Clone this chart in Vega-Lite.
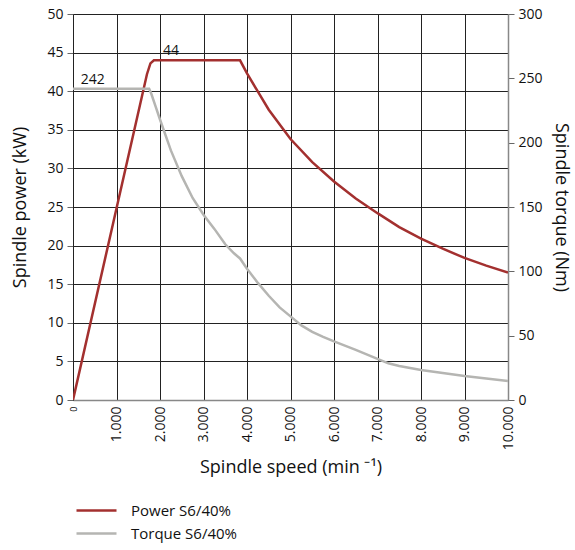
{
  "$schema": "https://vega.github.io/schema/vega-lite/v6.json",
  "width": 435,
  "height": 386,
  "autosize": "none",
  "padding": {"left": 73, "top": 14, "right": 67, "bottom": 150},
  "config": {
    "locale": {"number": {"decimal": ",", "thousands": ".", "grouping": [3], "currency": ["", " €"]}},
    "font": "Open Sans",
    "view": {"stroke": null},
    "axis": {"labelFont": "Open Sans", "titleFont": "Open Sans", "labelColor": "#111", "titleColor": "#111", "titleFontWeight": "normal"}
  },
  "datasets": {
    "curves": [
      {"rpm": 0, "value": 0, "series": "Power S6/40%"},
      {"rpm": 1700, "value": 42.2, "series": "Power S6/40%"},
      {"rpm": 1780, "value": 43.6, "series": "Power S6/40%"},
      {"rpm": 1860, "value": 44, "series": "Power S6/40%"},
      {"rpm": 3840, "value": 44, "series": "Power S6/40%"},
      {"rpm": 4000, "value": 42.3, "series": "Power S6/40%"},
      {"rpm": 4500, "value": 37.6, "series": "Power S6/40%"},
      {"rpm": 5000, "value": 33.8, "series": "Power S6/40%"},
      {"rpm": 5500, "value": 30.8, "series": "Power S6/40%"},
      {"rpm": 6000, "value": 28.3, "series": "Power S6/40%"},
      {"rpm": 6500, "value": 26.1, "series": "Power S6/40%"},
      {"rpm": 7000, "value": 24.2, "series": "Power S6/40%"},
      {"rpm": 7500, "value": 22.4, "series": "Power S6/40%"},
      {"rpm": 8000, "value": 20.9, "series": "Power S6/40%"},
      {"rpm": 8500, "value": 19.6, "series": "Power S6/40%"},
      {"rpm": 9000, "value": 18.4, "series": "Power S6/40%"},
      {"rpm": 9500, "value": 17.4, "series": "Power S6/40%"},
      {"rpm": 10000, "value": 16.5, "series": "Power S6/40%"},
      {"rpm": 0, "value": 242, "series": "Torque S6/40%"},
      {"rpm": 1750, "value": 242, "series": "Torque S6/40%"},
      {"rpm": 1800, "value": 238, "series": "Torque S6/40%"},
      {"rpm": 1900, "value": 228, "series": "Torque S6/40%"},
      {"rpm": 2000, "value": 218, "series": "Torque S6/40%"},
      {"rpm": 2250, "value": 194, "series": "Torque S6/40%"},
      {"rpm": 2500, "value": 174, "series": "Torque S6/40%"},
      {"rpm": 2750, "value": 157, "series": "Torque S6/40%"},
      {"rpm": 3000, "value": 144, "series": "Torque S6/40%"},
      {"rpm": 3250, "value": 133, "series": "Torque S6/40%"},
      {"rpm": 3500, "value": 121, "series": "Torque S6/40%"},
      {"rpm": 3700, "value": 114, "series": "Torque S6/40%"},
      {"rpm": 3840, "value": 110, "series": "Torque S6/40%"},
      {"rpm": 4000, "value": 102, "series": "Torque S6/40%"},
      {"rpm": 4250, "value": 91, "series": "Torque S6/40%"},
      {"rpm": 4500, "value": 81, "series": "Torque S6/40%"},
      {"rpm": 4750, "value": 72, "series": "Torque S6/40%"},
      {"rpm": 5000, "value": 65, "series": "Torque S6/40%"},
      {"rpm": 5250, "value": 58, "series": "Torque S6/40%"},
      {"rpm": 5500, "value": 53, "series": "Torque S6/40%"},
      {"rpm": 5750, "value": 49, "series": "Torque S6/40%"},
      {"rpm": 6000, "value": 45.5, "series": "Torque S6/40%"},
      {"rpm": 6500, "value": 39, "series": "Torque S6/40%"},
      {"rpm": 7000, "value": 32, "series": "Torque S6/40%"},
      {"rpm": 7250, "value": 28.5, "series": "Torque S6/40%"},
      {"rpm": 7500, "value": 26.5, "series": "Torque S6/40%"},
      {"rpm": 8000, "value": 23.3, "series": "Torque S6/40%"},
      {"rpm": 8500, "value": 21, "series": "Torque S6/40%"},
      {"rpm": 9000, "value": 18.7, "series": "Torque S6/40%"},
      {"rpm": 9500, "value": 16.8, "series": "Torque S6/40%"},
      {"rpm": 10000, "value": 14.8, "series": "Torque S6/40%"}
    ],
    "notes": [
      {"rpm": 2070, "value": 44, "label": "44", "series": "Power S6/40%"},
      {"rpm": 180, "value": 242, "label": "242", "series": "Torque S6/40%"}
    ]
  },
  "layer": [
    {
      "encoding": {
        "x": {
          "field": "rpm", "type": "quantitative",
          "scale": {"domain": [0, 10000], "nice": false},
          "axis": {
            "values": [0, 1000, 2000, 3000, 4000, 5000, 6000, 7000, 8000, 9000, 10000],
            "format": ",d",
            "labelAngle": -90,
            "labelAlign": "right",
            "labelBaseline": "middle",
            "labelFontSize": {"condition": {"test": "datum.value == 0", "value": 9}, "value": 14},
            "labelPadding": 6,
            "ticks": false,
            "grid": true,
            "gridColor": "#222",
            "gridWidth": 1,
            "domainColor": "#888",
            "domainWidth": 1.5,
            "title": "Spindle speed (min ⁻¹)",
            "titleFontSize": 18,
            "titlePadding": 9
          }
        },
        "y": {
          "field": "value", "type": "quantitative",
          "scale": {"domain": [0, 50], "nice": false},
          "axis": {
            "values": [0, 5, 10, 15, 20, 25, 30, 35, 40, 45, 50],
            "labelOverlap": false,
            "labelFontSize": 14,
            "labelPadding": 4,
            "tickSize": 6,
            "tickColor": "#666",
            "grid": true,
            "gridColor": "#222",
            "gridWidth": 1,
            "domainColor": "#222",
            "title": "Spindle power (kW)",
            "titleFontSize": 18,
            "titlePadding": 17
          }
        }
      },
      "layer": [
        {
          "data": {"name": "curves"},
          "transform": [{"filter": "datum.series === 'Power S6/40%'"}],
          "mark": {"type": "line", "strokeWidth": 2.5, "clip": true},
          "encoding": {
            "color": {
              "field": "series", "type": "nominal",
              "scale": {"domain": ["Power S6/40%", "Torque S6/40%"], "range": ["#a3302f", "#b5b5b2"]},
              "legend": {
                "title": null,
                "orient": "none",
                "legendX": 12,
                "legendY": 485,
                "symbolType": "M-2,0H2",
                "symbolSize": 400,
                "symbolStrokeWidth": 2.5,
                "labelFontSize": 15,
                "labelFont": "Open Sans",
                "labelColor": "#111",
                "labelOffset": 23,
                "rowPadding": 3
              }
            }
          }
        },
        {
          "data": {"name": "notes"},
          "transform": [{"filter": "datum.series === 'Power S6/40%'"}],
          "mark": {"type": "text", "align": "left", "baseline": "bottom", "dy": -2, "fontSize": 14, "color": "#111"},
          "encoding": {"text": {"field": "label"}}
        }
      ]
    },
    {
      "encoding": {
        "x": {"field": "rpm", "type": "quantitative"},
        "y": {
          "field": "value", "type": "quantitative",
          "scale": {"domain": [0, 300], "nice": false},
          "axis": {
            "orient": "right",
            "values": [0, 50, 100, 150, 200, 250, 300],
            "labelFontSize": 14,
            "labelPadding": 4,
            "tickSize": 6,
            "tickColor": "#666",
            "grid": false,
            "domainColor": "#888",
            "domainWidth": 1.5,
            "title": "Spindle torque (Nm)",
            "titleFontSize": 18,
            "titlePadding": 9
          }
        }
      },
      "layer": [
        {
          "data": {"name": "curves"},
          "transform": [{"filter": "datum.series === 'Torque S6/40%'"}],
          "mark": {"type": "line", "strokeWidth": 2.5, "clip": true},
          "encoding": {"color": {"field": "series", "type": "nominal"}}
        },
        {
          "data": {"name": "notes"},
          "transform": [{"filter": "datum.series === 'Torque S6/40%'"}],
          "mark": {"type": "text", "align": "left", "baseline": "bottom", "dy": -2, "fontSize": 14, "color": "#111"},
          "encoding": {"text": {"field": "label"}}
        }
      ]
    }
  ],
  "resolve": {"scale": {"y": "independent"}, "axis": {"y": "independent"}}
}
